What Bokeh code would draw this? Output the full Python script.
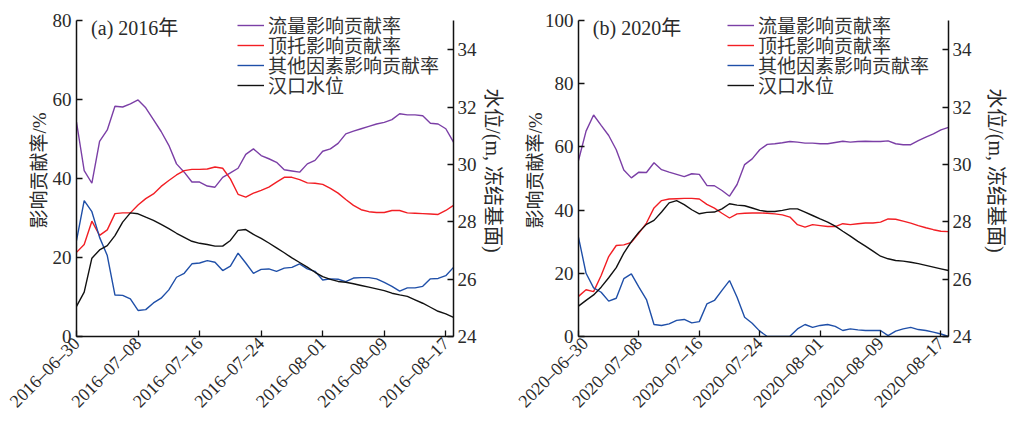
import math
import numpy as np
import pandas as pd
from bokeh.plotting import figure
from bokeh.models import Range1d, LinearAxis, FixedTicker, Label, Legend, LegendItem
from bokeh.layouts import row
from bokeh.embed import file_html
from bokeh.resources import INLINE

# ---------------- data ----------------
dates_2016 = pd.date_range("2016-06-30", periods=50, freq="D")
dates_2020 = pd.date_range("2020-06-30", periods=50, freq="D")

flow_2016 = [54.3, 42.0, 38.8, 49.4, 52.3, 58.3, 58.1, 58.9, 59.9, 57.9,
             54.9, 51.9, 48.4, 43.7, 41.6, 39.1, 39.1, 38.1, 37.8, 40.3,
             41.4, 42.6, 46.1, 47.5, 45.8, 45.0, 44.1, 42.2, 41.9, 41.6,
             43.7, 44.6, 46.9, 47.5, 48.9, 51.3, 52.0, 52.6, 53.2, 53.8,
             54.2, 54.9, 56.4, 56.1, 56.1, 55.9, 54.0, 53.8, 52.6, 49.2]
backwater_2016 = [21.3, 23.3, 29.2, 25.6, 27.0, 31.1, 31.3, 31.3, 33.3, 34.9,
                  36.1, 38.0, 39.5, 40.9, 42.0, 42.3, 42.3, 42.4, 42.9, 42.6,
                  39.9, 36.0, 35.3, 36.3, 37.0, 37.8, 39.1, 40.3, 40.3, 39.7,
                  38.9, 38.8, 38.5, 37.5, 36.3, 34.7, 33.2, 32.1, 31.6, 31.4,
                  31.4, 31.9, 31.9, 31.3, 31.2, 31.1, 31.0, 30.9, 31.9, 33.2]
other_2016 = [24.3, 34.4, 31.6, 25.1, 20.5, 10.5, 10.4, 9.5, 6.6, 6.8,
              8.5, 9.7, 11.8, 15.0, 16.0, 18.4, 18.6, 19.2, 18.8, 16.7,
              17.8, 21.1, 18.6, 16.0, 17.0, 17.1, 16.5, 17.3, 17.5, 18.4,
              17.1, 16.5, 14.3, 14.6, 14.5, 13.9, 14.8, 14.9, 14.9, 14.6,
              13.7, 12.7, 11.5, 12.3, 12.3, 12.7, 14.6, 14.7, 15.4, 17.5]
level_2016 = [25.05, 25.55, 26.73, 27.02, 27.17, 27.52, 27.99, 28.31, 28.28, 28.16,
              28.05, 27.91, 27.76, 27.60, 27.46, 27.32, 27.25, 27.21, 27.15, 27.15,
              27.35, 27.70, 27.73, 27.56, 27.42, 27.26, 27.09, 26.92, 26.74, 26.58,
              26.42, 26.24, 26.09, 25.99, 25.92, 25.89, 25.84, 25.78, 25.72, 25.66,
              25.60, 25.51, 25.45, 25.40, 25.28, 25.16, 25.02, 24.88, 24.79, 24.67]

flow_2020 = [55.7, 65.0, 70.1, 66.8, 63.6, 59.1, 52.7, 50.2, 52.0, 51.9,
             55.0, 52.8, 52.0, 51.3, 50.6, 51.5, 51.3, 47.8, 47.7, 46.2,
             44.4, 48.1, 54.4, 56.2, 59.1, 60.8, 61.0, 61.3, 61.7, 61.5,
             61.2, 61.2, 61.0, 61.0, 61.4, 61.8, 61.5, 61.7, 61.8, 61.7,
             61.7, 61.9, 61.0, 60.7, 60.7, 62.0, 63.1, 64.1, 65.4, 66.2]
backwater_2020 = [12.7, 14.8, 14.2, 19.3, 25.3, 28.8, 29.0, 29.8, 32.7, 35.9,
                  40.7, 43.0, 43.5, 43.6, 43.7, 43.7, 43.5, 41.8, 40.6, 39.0,
                  37.5, 38.8, 39.0, 39.1, 39.1, 39.0, 38.8, 38.5, 37.8, 35.4,
                  34.6, 35.4, 35.1, 34.8, 34.8, 35.7, 35.4, 35.7, 35.9, 35.9,
                  36.2, 37.2, 37.1, 36.5, 35.9, 35.1, 34.4, 33.8, 33.3, 33.2]
other_2020 = [31.4, 20.0, 15.4, 14.0, 11.2, 12.1, 18.3, 19.8, 15.6, 11.7,
              3.8, 3.5, 4.0, 5.1, 5.4, 4.3, 4.7, 10.3, 11.4, 14.6,
              17.7, 12.4, 6.1, 4.2, 1.7, 0.0, 0.0, 0.0, 0.1, 2.4,
              3.8, 2.9, 3.5, 3.8, 3.2, 1.9, 2.4, 2.1, 1.9, 1.9,
              1.9, 0.3, 1.7, 2.4, 2.9, 2.2, 1.9, 1.4, 0.8, 0.0]
level_2020 = [25.06, 25.26, 25.45, 25.72, 26.05, 26.40, 26.91, 27.31, 27.64, 27.91,
              28.05, 28.34, 28.66, 28.74, 28.60, 28.42, 28.28, 28.33, 28.34, 28.45,
              28.63, 28.58, 28.56, 28.48, 28.40, 28.36, 28.36, 28.40, 28.45, 28.45,
              28.34, 28.22, 28.10, 27.99, 27.85, 27.67, 27.50, 27.32, 27.15, 26.98,
              26.80, 26.71, 26.65, 26.63, 26.59, 26.54, 26.48, 26.42, 26.36, 26.30]

series_names = ["流量影响贡献率", "顶托影响贡献率", "其他因素影响贡献率", "汉口水位"]
series_colors = ["#7B3FA6", "#F21E24", "#1F4FA8", "#111111"]

left_ticks_a = [0, 20, 40, 60, 80]
left_ticks_b = [0, 20, 40, 60, 80, 100]
right_ticks = [24, 26, 28, 30, 32, 34]
level_axis_max = 35.02
tick_step_days = 8

SERIF = "'Liberation Serif', 'Noto Sans CJK SC'"
TXT = "#2a2a2a"
FIG_H = 423
AXIS_PX = 316      # drawn axis length
TOP_PAD = 16       # extra frame space above the axes (legend/title room)
TOP_BORDER = 4


def make_panel(dates, flow, back, other, level, title, left_ticks, ymax,
               width, border_left, border_right, legend_x, left_lab_off, right_lab_off):
    x = list(range(len(dates)))
    y_end = ymax + TOP_PAD * ymax / AXIS_PX
    wl_end = level_axis_max + TOP_PAD * (level_axis_max - 24) / AXIS_PX
    p = figure(width=width, height=FIG_H, output_backend="svg", toolbar_location=None,
               x_range=Range1d(0, len(dates) - 1), y_range=Range1d(0, y_end),
               min_border_left=border_left, min_border_right=border_right,
               min_border_top=TOP_BORDER,
               min_border_bottom=FIG_H - TOP_BORDER - TOP_PAD - AXIS_PX)
    p.extra_y_ranges = {"wl": Range1d(24, wl_end)}
    p.grid.visible = False
    p.outline_line_color = None
    p.background_fill_color = None
    p.border_fill_color = None

    r1 = p.line(x, flow, color=series_colors[0], line_width=1.4)
    r2 = p.line(x, back, color=series_colors[1], line_width=1.4)
    r3 = p.line(x, other, color=series_colors[2], line_width=1.4)
    r4 = p.line(x, level, color=series_colors[3], line_width=1.4, y_range_name="wl")

    tick_pos = x[::tick_step_days]
    tick_labels = [d.strftime("%Y–%m–%d") for d in dates[::tick_step_days]]
    xa = p.xaxis[0]
    xa.ticker = FixedTicker(ticks=tick_pos)
    xa.major_label_overrides = {t: l for t, l in zip(tick_pos, tick_labels)}
    xa.major_label_orientation = math.pi / 4
    xa.major_label_text_font_size = "18px"
    xa.major_label_standoff = 4

    ya = p.yaxis[0]
    ya.ticker = FixedTicker(ticks=left_ticks)
    ya.bounds = (0, ymax)
    ya.axis_label = "影响贡献率/%"

    ra = LinearAxis(y_range_name="wl", ticker=FixedTicker(ticks=right_ticks),
                    bounds=(24, level_axis_max), axis_label="水位/(m, 冻结基面)")
    p.add_layout(ra, "right")

    for ax in [xa, ya, ra]:
        ax.axis_line_width = 1.5
        ax.axis_line_color = "#111111"
        ax.major_tick_line_color = "#111111"
        ax.major_tick_line_width = 1.3
        ax.major_tick_in = 6
        ax.major_tick_out = 0
        ax.minor_tick_line_color = None
        ax.major_label_text_font = SERIF
        ax.major_label_text_color = TXT
        ax.axis_label_text_font_style = "normal"
        ax.axis_label_text_color = TXT
    for ax in [ya, ra]:
        ax.major_label_text_font_size = "19px"
    ya.major_label_standoff = 5
    ya.axis_label_standoff = left_lab_off
    ya.axis_label_text_font = SERIF
    ya.axis_label_text_font_size = "19px"
    ra.axis_label_text_font = SERIF
    ra.axis_label_text_font_size = "20px"
    ra.major_label_standoff = 4
    ra.axis_label_standoff = right_lab_off

    # legend: one entry per row, rows 20px apart
    for i, (n, r) in enumerate(zip(series_names, [r1, r2, r3, r4])):
        lg = Legend(items=[LegendItem(label=n, renderers=[r])],
                    location=(legend_x, 298 - 20 * i))
        lg.label_text_font = SERIF
        lg.label_text_font_size = "19px"
        lg.label_text_color = "#333333"
        lg.glyph_width = 27
        lg.glyph_height = 18
        lg.label_height = 18
        lg.label_standoff = 4
        lg.spacing = 0
        lg.padding = 0
        lg.margin = 0
        lg.border_line_color = None
        lg.background_fill_alpha = 0
        p.add_layout(lg, "center")

    lab = Label(x=1.9, y=ymax * 0.975, text=title, text_font=SERIF,
                text_font_size="20px", text_color=TXT, text_baseline="middle")
    p.add_layout(lab)
    return p


pa = make_panel(dates_2016, flow_2016, backwater_2016, other_2016, level_2016,
                "(a) 2016年", left_ticks_a, 80, 514, 76, 61, 161, 0, 2)
pb = make_panel(dates_2020, flow_2020, backwater_2020, other_2020, level_2020,
                "(b) 2020年", left_ticks_b, 100, 495, 64, 54, 149, -4, 10)

layout = row(pa, pb)
open("out.html", "w").write(file_html(layout, INLINE))
